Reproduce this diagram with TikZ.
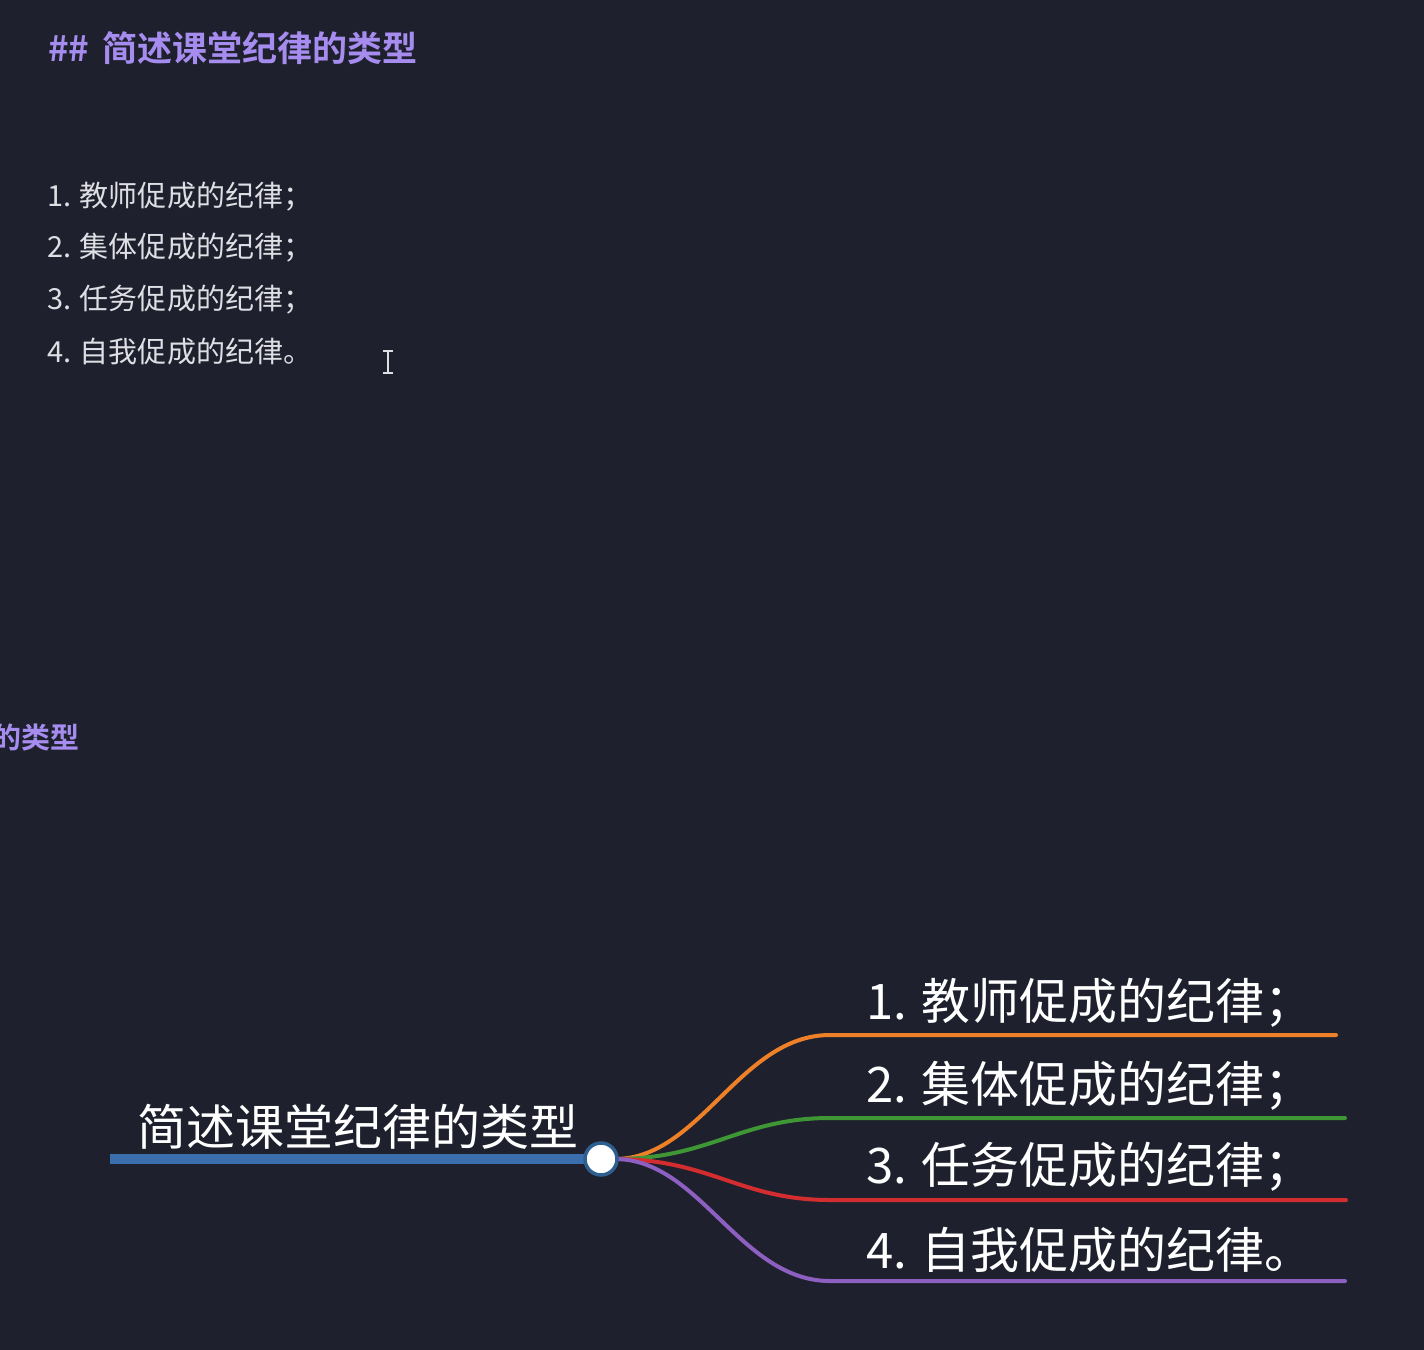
\documentclass[tikz,border=0pt]{standalone}
\usepackage{fontspec}
\setmainfont{Noto Sans CJK SC}
\newfontfamily\cjk{Noto Sans CJK SC}
\newfontfamily\cjkb{Noto Sans CJK SC Bold}
\definecolor{bgc}{RGB}{30,33,45}
\definecolor{titlec}{RGB}{165,140,238}
\definecolor{listc}{RGB}{222,222,228}
\definecolor{rootblue}{RGB}{58,110,172}
\definecolor{ringblue}{RGB}{45,95,145}
\definecolor{orangec}{RGB}{238,128,40}
\definecolor{greenc}{RGB}{62,150,52}
\definecolor{redc}{RGB}{212,45,48}
\definecolor{purplec}{RGB}{140,95,192}
\tikzset{
  titletext/.style={anchor=west, inner sep=0pt, text=titlec, font=\cjkb\fontsize{35bp}{40bp}\selectfont},
  listtext/.style={anchor=west, inner sep=0pt, text=listc, font=\cjk\fontsize{29bp}{34bp}\selectfont},
  roottext/.style={anchor=west, inner sep=0pt, text=white, font=\cjk\fontsize{49bp}{56bp}\selectfont},
  branchtext/.style={anchor=west, inner sep=0pt, text=white, font=\cjk\fontsize{49bp}{56bp}\selectfont},
  branch/.style={line width=4bp, line cap=round},
}
\begin{document}
\begin{tikzpicture}[x=1bp,y=-1bp]
\useasboundingbox (0,0) rectangle (1424,1350);
\clip (0,0) rectangle (1424,1350);
\fill[bgc] (0,0) rectangle (1424,1350);

% markdown source
\node[titletext] (title) at (48,48) {\#\#\hspace{5bp} 简述课堂纪律的类型};
\node[listtext] (l1) at (47,197) {1. 教师促成的纪律；};
\node[listtext] (l2) at (47,248) {2. 集体促成的纪律；};
\node[listtext] (l3) at (47,300) {3. 任务促成的纪律；};
\node[listtext] (l4) at (47,352) {4. 自我促成的纪律。};

% text cursor
\draw[listc, line width=1.6bp] (383,351) -- (393,351) (388,351) -- (388,373) (383,373) -- (393,373);

% partial heading on the left
\node[titletext, anchor=east, font=\cjkb\fontsize{29bp}{34bp}\selectfont] (part) at (80,737) {的类型};

% mind map
\coordinate (rootstart) at (110,1159);
\node[roottext] (root) at (137,1127) {简述课堂纪律的类型};
\draw[rootblue, line width=10bp] (rootstart) -- (592,1159);
\coordinate (hub) at (615,1159);

\coordinate (e1) at (830,1035);
\coordinate (e2) at (830,1118);
\coordinate (e3) at (830,1200);
\coordinate (e4) at (830,1281);
\coordinate (f1) at (1336,1035);
\coordinate (f2) at (1345,1118);
\coordinate (f3) at (1346,1200);
\coordinate (f4) at (1345,1281);

\draw[branch, orangec] (hub) .. controls (700,1159) and (740,1035) .. (e1) -- (f1);
\draw[branch, greenc] (hub) .. controls (710,1159) and (740,1118) .. (e2) -- (f2);
\draw[branch, redc] (hub) .. controls (710,1159) and (740,1200) .. (e3) -- (f3);
\draw[branch, purplec] (hub) .. controls (700,1159) and (740,1281) .. (e4) -- (f4);

\node[circle, fill=white, draw=ringblue, line width=3.5bp, minimum size=32bp, inner sep=0pt] (hubc) at (601,1159) {};

\node[branchtext] (b1) at (866,1003) {1. 教师促成的纪律；};
\node[branchtext] (b2) at (866,1086) {2. 集体促成的纪律；};
\node[branchtext] (b3) at (866,1167) {3. 任务促成的纪律；};
\node[branchtext] (b4) at (866,1250) {4. 自我促成的纪律。};
\end{tikzpicture}
\end{document}
